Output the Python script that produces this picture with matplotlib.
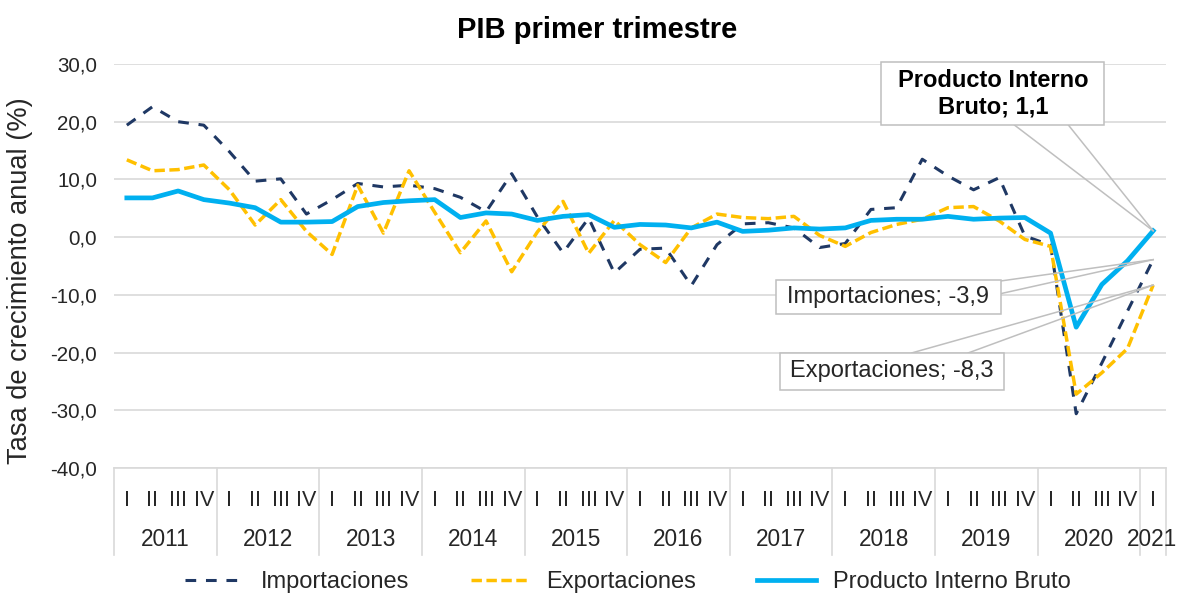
import matplotlib
matplotlib.use("Agg")
import matplotlib.pyplot as plt
import matplotlib.transforms as mtransforms
from matplotlib.patches import Rectangle
from matplotlib.lines import Line2D

plt.rcParams['font.family'] = ['Liberation Sans', 'DejaVu Sans']

years = ['2011', '2012', '2013', '2014', '2015', '2016', '2017', '2018', '2019', '2020', '2021']
quarters = ['I', 'II', 'III', 'IV']
quarter_labels = quarters * 10 + ['I']

importaciones = [19.4, 22.6, 20.0, 19.4, 14.8, 9.7, 10.1, 4.0, 6.5, 9.3, 8.7, 9.0,
                 8.4, 6.9, 4.4, 11.0, 3.5, -2.7, 3.3, -6.2, -2.1, -1.9, -8.4, -1.3,
                 2.3, 2.5, 1.6, -1.8, -1.1, 4.8, 5.1, 13.5, 10.6, 8.2, 10.3, 0.2,
                 -1.4, -30.6, -21.8, -12.8, -3.9]
exportaciones = [13.4, 11.5, 11.7, 12.5, 8.2, 2.1, 6.5, 1.0, -3.0, 9.0, 0.7, 11.5,
                 4.3, -2.7, 2.8, -6.0, 0.9, 6.2, -2.8, 2.9, -1.3, -4.4, 1.6, 4.0,
                 3.4, 3.2, 3.6, 0.3, -1.6, 0.8, 2.2, 3.1, 5.1, 5.3, 2.8, -0.4,
                 -1.6, -27.2, -23.5, -19.3, -8.3]
pib = [6.8, 6.8, 8.0, 6.5, 5.9, 5.1, 2.6, 2.6, 2.7, 5.3, 6.0, 6.3,
       6.5, 3.4, 4.2, 4.0, 2.9, 3.6, 3.9, 1.7, 2.2, 2.1, 1.6, 2.6,
       1.0, 1.2, 1.6, 1.4, 1.6, 2.9, 3.1, 3.1, 3.6, 3.1, 3.3, 3.4,
       0.7, -15.6, -8.2, -4.1, 1.1]

series_names = ['Importaciones', 'Exportaciones', 'Producto Interno Bruto']
c_imp = '#1F3864'
c_exp = '#FFC000'
c_pib = '#00B0F0'
grid_c = '#D9D9D9'
lead_c = '#BFBFBF'
txt_c = '#262626'

fig = plt.figure(figsize=(11.77, 5.95), dpi=100)
ax = fig.add_axes([114/1177, 1-468/595, (1166-114)/1177, (468-64)/595])

n = len(pib)
x = list(range(n))

imp_style = dict(color=c_imp, lw=2.2, dashes=(3.5, 3.2))
exp_style = dict(color=c_exp, lw=2.5, dashes=(3, 1.3))
pib_style = dict(color=c_pib, lw=3.4)

ax.plot(x, importaciones, label=series_names[0], zorder=3, **imp_style)
ax.plot(x, exportaciones, label=series_names[1], zorder=3, **exp_style)
ax.plot(x, pib, label=series_names[2], zorder=4, solid_joinstyle='round', **pib_style)

ax.set_xlim(-0.5, n - 0.5)
ax.set_ylim(-40, 30)
yt = list(range(-40, 31, 10))
ax.set_yticks(yt)
ax.set_yticklabels([f"{v:.1f}".replace('.', ',') for v in yt], fontsize=14.8, color=txt_c)
ax.tick_params(axis='y', length=0, pad=12)
ax.grid(axis='y', color=grid_c, lw=1.2)
ax.set_axisbelow(True)
for s in ['top', 'right', 'left']:
    ax.spines[s].set_visible(False)
ax.spines['bottom'].set_color(grid_c)
ax.spines['bottom'].set_linewidth(1.2)

ax.set_xticks(x)
ax.set_xticklabels(quarter_labels, fontsize=15.5, color=txt_c)
ax.tick_params(axis='x', length=0, pad=16)

trans = mtransforms.blended_transform_factory(ax.transData, ax.transAxes)
seps = [-0.5 + 4 * k for k in range(11)] + [n - 0.5]
for s in seps:
    ax.plot([s, s], [0, -0.215], transform=trans, color=grid_c, lw=1.2, clip_on=False)
for k, yr in enumerate(years):
    xc = 1.5 + 4 * k if k < 10 else 39.95
    ax.text(xc, -0.178, yr, transform=trans, ha='center', va='center', fontsize=16.3, color=txt_c)

ax.set_ylabel('Tasa de crecimiento anual (%)', fontsize=19.6, color=txt_c)
ax.yaxis.set_label_coords(-0.077, 0.465)

fig.text(597/1177, 1 - 30/595, 'PIB primer trimestre', ha='center', va='center',
         fontsize=21, fontweight='bold', color='black')

def callout(text, x0, x1, y0, y1, lead_pts, target, bold=False):
    for (lx, ly) in lead_pts:
        ax.plot([lx, target[0]], [ly, target[1]], color=lead_c, lw=1.1, zorder=5, clip_on=False)
    ax.add_patch(Rectangle((x0, y1), x1 - x0, y0 - y1, facecolor='white', edgecolor=lead_c,
                           lw=1.1, zorder=6, clip_on=False))
    ax.text((x0 + x1) / 2, (y0 + y1) / 2, text, ha='center', va='center',
            fontsize=17, fontweight='bold' if bold else 'normal',
            color='black' if bold else txt_c, zorder=7, linespacing=1.2, clip_on=False)

last = n - 1
callout('Producto Interno\nBruto; 1,1', 29.4, 38.1, 30.4, 19.4,
        [(34.6, 19.4), (36.7, 19.4)], (last, pib[-1]), bold=True)
callout('Importaciones; ' + f"{importaciones[-1]:.1f}".replace('.', ','), 25.3, 34.05, -7.45, -13.3,
        [(34.05, -7.6), (34.05, -9.8)], (last, importaciones[-1]))
callout('Exportaciones; ' + f"{exportaciones[-1]:.1f}".replace('.', ','), 25.45, 34.2, -20.05, -26.4,
        [(30.6, -20.05), (32.8, -20.05)], (last, exportaciones[-1]))

handles = [Line2D([], [], **imp_style), Line2D([], [], **exp_style), Line2D([], [], **pib_style)]
fig.legend(handles, series_names, loc='center', bbox_to_anchor=(628/1177, 1 - 582/595), ncol=3,
           frameon=False, fontsize=17, handlelength=2.5, columnspacing=2.6, handletextpad=0.7,
           labelcolor=txt_c)

fig.savefig('out.png', dpi=100)
